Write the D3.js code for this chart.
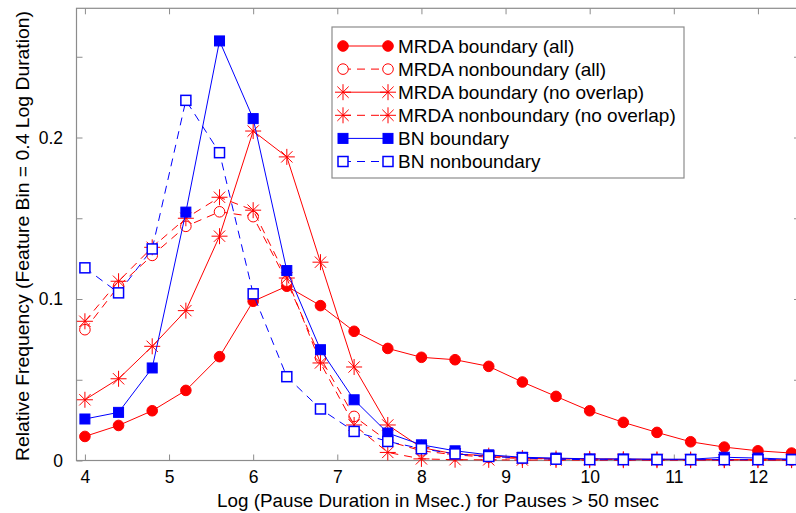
<!DOCTYPE html>
<html>
<head>
<meta charset="utf-8">
<script src="https://cdn.jsdelivr.net/npm/d3@7"></script>
<style>
  html, body { margin: 0; padding: 0; background: #fff; }
  svg { display: block; font-family: "Liberation Sans", Arial, sans-serif; }
</style>
</head>
<body>
<svg id="chart" width="796" height="513"></svg>
<script>
// ---- data ----
const xValues = [4.0, 4.4, 4.8, 5.2, 5.6, 6.0, 6.4, 6.8, 7.2, 7.6, 8.0, 8.4, 8.8, 9.2, 9.6, 10.0, 10.4, 10.8, 11.2, 11.6, 12.0, 12.4];

const mrdaBoundaryAll = [0.0149, 0.0217, 0.0308, 0.0434, 0.0643, 0.0986, 0.1079, 0.0959, 0.0800, 0.0694, 0.0639, 0.0624, 0.0583, 0.0486, 0.0397, 0.0308, 0.0236, 0.0174, 0.0116, 0.0083, 0.0060, 0.0046];
const mrdaNonboundaryAll = [0.0810, 0.1080, 0.1270, 0.1450, 0.1540, 0.1510, 0.1110, 0.0635, 0.0273, 0.0120, 0.0060, 0.0035, 0.0020, 0.0012, 0.0010, 0.0008, 0.0006, 0.0005, 0.0005, 0.0004, 0.0004, 0.0003];
const mrdaBoundaryNoOverlap = [0.0376, 0.0506, 0.0707, 0.0928, 0.1389, 0.2040, 0.1880, 0.1228, 0.0579, 0.0220, 0.0080, 0.0040, 0.0030, 0.0015, 0.0012, 0.0010, 0.0008, 0.0007, 0.0006, 0.0005, 0.0005, 0.0004];
const mrdaNonboundaryNoOverlap = [0.0862, 0.1110, 0.1320, 0.1500, 0.1630, 0.1550, 0.1130, 0.0604, 0.0220, 0.0050, 0.0010, 0.0005, 0.0004, 0.0003, 0.0003, 0.0002, 0.0002, 0.0002, 0.0002, 0.0002, 0.0002, 0.0002];
const bnBoundary = [0.0257, 0.0298, 0.0573, 0.1538, 0.2598, 0.2117, 0.1176, 0.0686, 0.0376, 0.0170, 0.0097, 0.0060, 0.0035, 0.0020, 0.0015, 0.0010, 0.0010, 0.0008, 0.0008, 0.0020, 0.0015, 0.0008];
const bnNonboundary = [0.1193, 0.1038, 0.1310, 0.2230, 0.1906, 0.1032, 0.0519, 0.0319, 0.0180, 0.0118, 0.0073, 0.0041, 0.0025, 0.0015, 0.0008, 0.0005, 0.0005, 0.0005, 0.0005, 0.0005, 0.0005, 0.0005];

const seriesNames = ["MRDA boundary (all)", "MRDA nonboundary (all)", "MRDA boundary (no overlap)", "MRDA nonboundary (no overlap)", "BN boundary", "BN nonboundary"];
const xTickValues = [4, 5, 6, 7, 8, 9, 10, 11, 12];
const yTickValues = [0, 0.05, 0.1, 0.15, 0.2, 0.25];
const yTickLabels = ["0", "", "0.1", "", "0.2", ""];
const xLabel = "Log (Pause Duration in Msec.) for Pauses > 50 msec";
const yLabel = "Relative Frequency (Feature Bin = 0.4 Log Duration)";

// ---- styles ----
const styles = [
  { values: mrdaBoundaryAll, color: "#ff0000", dash: null, marker: "circle", fill: true },
  { values: mrdaNonboundaryAll, color: "#ff0000", dash: "8,6", marker: "circle", fill: false },
  { values: mrdaBoundaryNoOverlap, color: "#ff0000", dash: null, marker: "star", fill: false },
  { values: mrdaNonboundaryNoOverlap, color: "#ff0000", dash: "8,6", marker: "star", fill: false },
  { values: bnBoundary, color: "#0000ff", dash: null, marker: "square", fill: true },
  { values: bnNonboundary, color: "#0000ff", dash: "8,6", marker: "square", fill: false }
];

const svg = d3.select("#chart");
const pLeft = 76.5, pRight = 800, pTop = 8.3, pBottom = 460.5;
const x = d3.scaleLinear().domain([3.9, 12.5]).range([pLeft, pRight]);
const y = d3.scaleLinear().domain([0, 0.28]).range([pBottom, pTop]);
const axisColor = "#8c8c8c";
const FONT = "Liberation Sans, Arial, sans-serif";

// axes box
svg.append("rect").attr("x", pLeft).attr("y", pTop).attr("width", pRight - pLeft).attr("height", pBottom - pTop)
  .attr("fill", "none").attr("stroke", axisColor).attr("stroke-width", 1.2);

// bottom axis
const xAxis = d3.axisBottom(x).tickValues(xTickValues).tickSizeInner(-6).tickSizeOuter(0).tickPadding(10).tickFormat(d3.format("d"));
const gx = svg.append("g").attr("transform", `translate(0,${pBottom})`).call(xAxis);
gx.select(".domain").remove();
gx.attr("font-family", FONT).attr("font-size", 17.5);
gx.selectAll(".tick line").attr("stroke", axisColor);
gx.selectAll(".tick text").attr("fill", "#000");

// top ticks
const gxt = svg.append("g").attr("transform", `translate(0,${pTop})`).call(d3.axisTop(x).tickValues(xTickValues).tickSizeInner(-6).tickSizeOuter(0).tickFormat(""));
gxt.select(".domain").remove();
gxt.selectAll(".tick line").attr("stroke", axisColor);

// left axis
const yAxis = d3.axisLeft(y).tickValues(yTickValues).tickSizeInner(-6).tickSizeOuter(0).tickPadding(13.5)
  .tickFormat((d, i) => yTickLabels[i]);
const gy = svg.append("g").attr("transform", `translate(${pLeft},0)`).call(yAxis);
gy.select(".domain").remove();
gy.attr("font-family", FONT).attr("font-size", 17.5);
gy.selectAll(".tick line").attr("stroke", axisColor);
gy.selectAll(".tick text").attr("fill", "#000");

// right ticks
const gyr = svg.append("g").attr("transform", `translate(${pRight},0)`).call(d3.axisRight(y).tickValues(yTickValues).tickSizeInner(-6).tickSizeOuter(0).tickFormat(""));
gyr.select(".domain").remove();
gyr.selectAll(".tick line").attr("stroke", axisColor);

// axis labels
svg.append("text").attr("x", 438).attr("y", 507).attr("text-anchor", "middle")
  .attr("font-size", 19).attr("textLength", 442).attr("lengthAdjust", "spacingAndGlyphs").text(xLabel);
svg.append("text").attr("transform", `translate(29,236) rotate(-90)`).attr("text-anchor", "middle")
  .attr("font-size", 19).attr("textLength", 450).attr("lengthAdjust", "spacingAndGlyphs").text(yLabel);

// marker drawing
function drawMarker(g, type, cx, cy, color, filled) {
  if (type === "circle") {
    g.append("circle").attr("cx", cx).attr("cy", cy).attr("r", 5.3)
      .attr("fill", filled ? color : "#fff").attr("stroke", color).attr("stroke-width", 1);
  } else if (type === "square") {
    const s = 10;
    g.append("rect").attr("x", cx - s / 2).attr("y", cy - s / 2).attr("width", s).attr("height", s)
      .attr("fill", filled ? color : "#fff").attr("stroke", color).attr("stroke-width", filled ? 1 : 1.5);
  } else if (type === "star") {
    const r = 8, d = r * 0.7071;
    const p = `M${cx - r},${cy}L${cx + r},${cy}M${cx},${cy - r}L${cx},${cy + r}` +
      `M${cx - d},${cy - d}L${cx + d},${cy + d}M${cx - d},${cy + d}L${cx + d},${cy - d}`;
    g.append("path").attr("d", p).attr("stroke", color).attr("stroke-width", 1).attr("fill", "none");
  }
}

// series
const line = d3.line().x(d => x(d[0])).y(d => y(d[1]));
styles.forEach(s => {
  const g = svg.append("g");
  const pts = xValues.map((xv, i) => [xv, s.values[i]]);
  g.append("path").datum(pts).attr("d", line).attr("fill", "none").attr("stroke", s.color)
    .attr("stroke-width", 1).attr("stroke-dasharray", s.dash);
  pts.forEach(p => drawMarker(g, s.marker, x(p[0]), y(p[1]), s.color, s.fill));
});

// legend
const lg = svg.append("g");
const lx = 332, ly = 27, lw = 352, lh = 151;
lg.append("rect").attr("x", lx).attr("y", ly).attr("width", lw).attr("height", lh)
  .attr("fill", "#fff").attr("stroke", axisColor).attr("stroke-width", 1.2);
styles.forEach((s, i) => {
  const cy = 46 + i * 23.1;
  const x1 = 343, x2 = 388;
  lg.append("line").attr("x1", x1).attr("x2", x2).attr("y1", cy).attr("y2", cy)
    .attr("stroke", s.color).attr("stroke-width", 1).attr("stroke-dasharray", s.dash);
  drawMarker(lg, s.marker, x1, cy, s.color, s.fill);
  drawMarker(lg, s.marker, x2, cy, s.color, s.fill);
  lg.append("text").attr("x", 398).attr("y", cy + 6.5).attr("font-size", 19).text(seriesNames[i]);
});
</script>
</body>
</html>
